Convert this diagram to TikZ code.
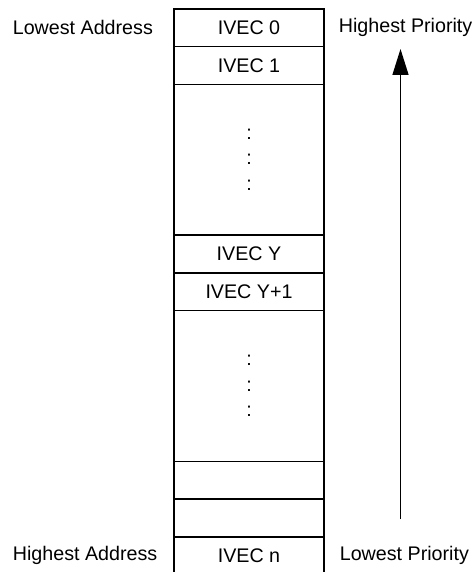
\documentclass[tikz,border=0pt]{standalone}
\usepackage{fontspec}
\setmainfont{Liberation Sans}
\usetikzlibrary{positioning,arrows.meta}

\tikzset{
  cell/.style={draw, line width=0.9pt, minimum width=3cm, minimum height=#1,
    inner sep=0pt, outer sep=0pt, align=center,
    font=\fontsize{11.2}{14.5}\selectfont},
  cell/.default=0.754cm,
  side/.style={inner sep=0pt, anchor=west, font=\fontsize{11.2}{13.5}\selectfont}
}

\begin{document}
\begin{tikzpicture}
  \useasboundingbox (0,0) rectangle (9.46,-11.44);
  % vector table, top to bottom
  \node[cell, anchor=north west] (c0) at (3.48,-0.18) {IVEC 0};
  \node[cell, below=0pt of c0] (c1) {IVEC 1};
  \node[cell=3.016cm, below=0pt of c1] (gap1) {:\\:\\:};
  \node[cell, below=0pt of gap1] (cy) {IVEC Y};
  \node[cell, below=0pt of cy] (cy1) {IVEC Y+1};
  \node[cell=3.016cm, below=0pt of cy1] (gap2) {:\\:\\:};
  \node[cell, below=0pt of gap2] (c2) {};
  \node[cell, below=0pt of c2] (c3) {};
  \node[cell, below=0pt of c3] (cn) {IVEC n};

  % address side
  \node[side] (loaddr) at (0.25,0 |- c0) {Lowest Address};
  \node[side] (hiaddr) at (0.25,0 |- cn) {Highest Address};

  % priority side
  \node[side] (hiprio) at (6.77,0 |- c0) {Highest Priority};
  \node[side] (loprio) at (6.79,0 |- cn) {Lowest Priority};
  \coordinate (priobot) at (8.01,-10.38);
  \coordinate (priotop) at (8.01,-0.98);
  \draw[line width=0.85pt, -{Triangle[length=0.52cm,width=0.32cm]}] (priobot) -- (priotop);
\end{tikzpicture}
\end{document}
